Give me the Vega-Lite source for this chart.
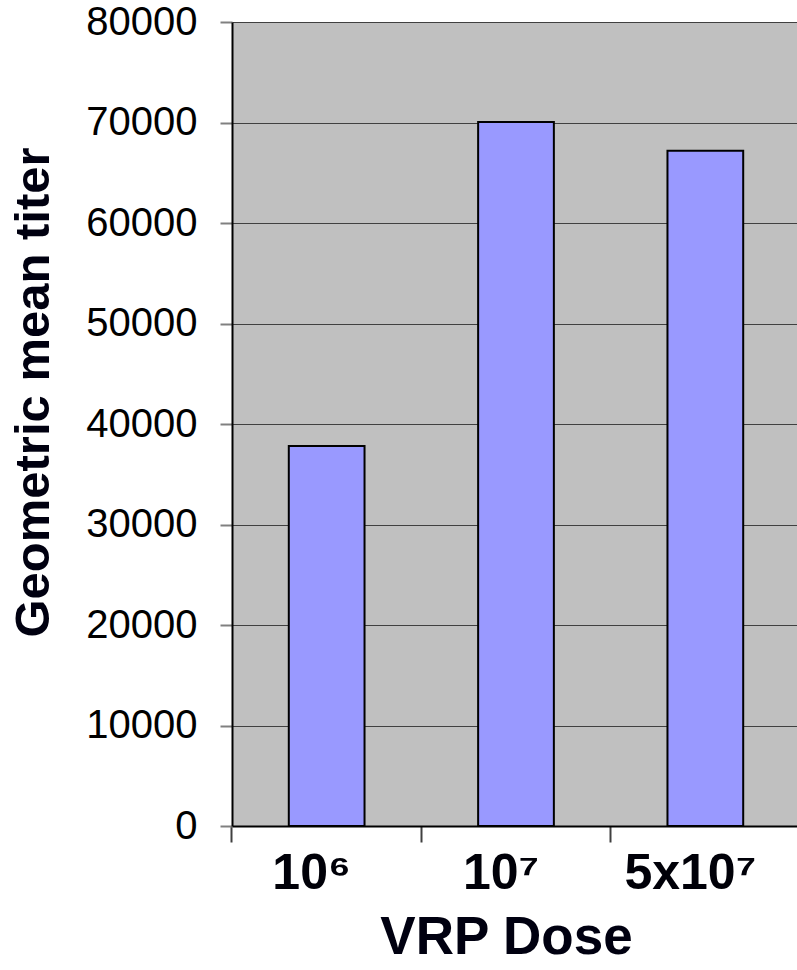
{
  "$schema": "https://vega.github.io/schema/vega-lite/v6.json",
  "autosize": {"type": "none"},
  "padding": {"left": 232, "top": 22, "right": 0, "bottom": 144},
  "width": 568,
  "height": 804,
  "background": "white",
  "view": {"fill": "#C0C0C0", "stroke": null},
  "data": {
    "values": [
      {"dose": "10⁶", "titer": 37800},
      {"dose": "10⁷", "titer": 70050},
      {"dose": "5x10⁷", "titer": 67200}
    ]
  },
  "mark": {"type": "bar", "fill": "#9999FF", "stroke": "black", "strokeWidth": 2},
  "encoding": {
    "x": {
      "field": "dose",
      "type": "nominal",
      "sort": null,
      "scale": {"paddingInner": 0.6, "paddingOuter": 0.3},
      "axis": {
        "bandPosition": -0.75,
        "labelOffset": -15,
        "labelAngle": 0,
        "labelFont": "Liberation Sans",
        "labelFontWeight": "bold",
        "labelFontSize": 50,
        "labelColor": "#000008",
        "labelBaseline": "alphabetic",
        "labelPadding": 46,
        "tickSize": 16,
        "tickColor": "#404040",
        "tickWidth": 2,
        "domainColor": "black",
        "domainWidth": 2,
        "grid": false,
        "title": "VRP Dose",
        "titleFont": "Liberation Sans",
        "titleFontWeight": "bold",
        "titleFontSize": 53,
        "titleColor": "#000010",
        "titleBaseline": "alphabetic",
        "titleAlign": "center",
        "titleX": 274,
        "titleY": 127
      }
    },
    "y": {
      "field": "titer",
      "type": "quantitative",
      "scale": {"domain": [0, 80000], "nice": false},
      "axis": {
        "values": [0, 10000, 20000, 30000, 40000, 50000, 60000, 70000, 80000],
        "format": "d",
        "labelFont": "Liberation Sans",
        "labelFontSize": 40,
        "labelColor": "black",
        "labelPadding": 23,
        "tickSize": 12,
        "tickColor": "#808080",
        "tickWidth": 2,
        "domainColor": "black",
        "domainWidth": 2,
        "grid": true,
        "gridColor": "#404040",
        "gridWidth": 1,
        "title": "Geometric mean titer",
        "titleFont": "Liberation Sans",
        "titleFontWeight": "bold",
        "titleFontSize": 49,
        "titleColor": "#000010",
        "titleAngle": 270,
        "titleAlign": "center",
        "titleBaseline": "alphabetic",
        "titleX": -184,
        "titleY": 370
      }
    }
  }
}
